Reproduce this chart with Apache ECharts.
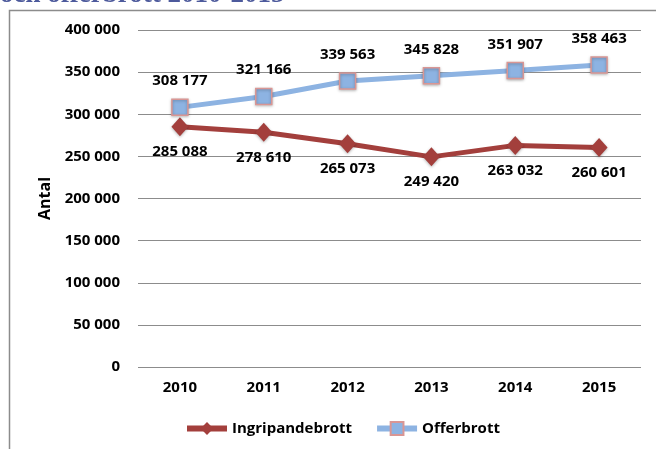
<!DOCTYPE html>
<html><head><meta charset="utf-8">
<script src="https://cdn.jsdelivr.net/npm/echarts@6/dist/echarts.min.js"></script>
<style>html,body{margin:0;padding:0;background:#fff}#c{width:656px;height:449px}</style>
</head><body><div id="c"></div>
<script>
const categories = ['2010','2011','2012','2013','2014','2015'];
const ingripandebrott = [285088, 278610, 265073, 249420, 263032, 260601];
const offerbrott = [308177, 321166, 339563, 345828, 351907, 358463];
const yTicks = [0, 50000, 100000, 150000, 200000, 250000, 300000, 350000, 400000];

const fmt = v => String(v).replace(/\B(?=(\d{3})+(?!\d))/g, ' ');
const FONT = '"Open Sans", "Liberation Sans", sans-serif';
const FS = 15;
const chart = echarts.init(document.getElementById('c'));
chart.setOption({
  animation: false,
  graphic: [
    {type:'rect', shape:{x:9.5, y:10.5, width:700, height:500}, style:{fill:'none', stroke:'#8c8c8c', lineWidth:1.5}, silent:true},
    {type:'text', x:0, y:-4.5, style:{text:'och offerbrott 2010-2015', font:'bold 27px "Liberation Serif", "DejaVu Serif", serif', fill:'#4d5a9c', verticalAlign:'middle', align:'left'}}
  ],
  grid: {left:138, right:15, top:30, bottom:82},
  legend: {
    bottom: 8, left: 179, itemGap: 22, itemWidth: 40, itemHeight: 16,
    textStyle: {fontFamily: FONT, fontWeight:'bold', fontSize:FS, color:'#000'},
    data: [
      {name:'Ingripandebrott', lineStyle:{width:6}},
      {name:'Offerbrott', lineStyle:{width:6}}
    ]
  },
  xAxis: {
    type:'category', data: categories, boundaryGap:true,
    axisLine:{show:false}, axisTick:{show:false},
    axisLabel:{fontFamily:FONT, fontWeight:'bold', fontSize:FS, color:'#000', margin:13}
  },
  yAxis: {
    type:'value', min:yTicks[0], max:yTicks[yTicks.length-1], interval:yTicks[1]-yTicks[0],
    name:'Antal', nameLocation:'middle', nameGap:84, nameRotate:90,
    nameTextStyle:{fontFamily:FONT, fontWeight:'bold', fontSize:16, color:'#000'},
    axisLine:{show:false}, axisTick:{show:false},
    splitLine:{lineStyle:{color:'#8c8c8c', width:1}},
    axisLabel:{fontFamily:FONT, fontWeight:'bold', fontSize:FS, color:'#000', margin:18, formatter: v => fmt(v)}
  },
  series: [
    {
      name:'Ingripandebrott', type:'line', data: ingripandebrott,
      symbol:'diamond', symbolSize:[17,19],
      lineStyle:{color:'#a33f3c', width:5},
      itemStyle:{color:'#a33f3c', borderColor:'#a33f3c', borderWidth:0, shadowColor:'rgba(0,0,0,0.3)', shadowBlur:3, shadowOffsetY:1},
      label:{show:true, position:'bottom', distance:8, fontFamily:FONT, fontWeight:'bold', fontSize:FS, color:'#000', formatter: p => fmt(p.value)},
      z: 2
    },
    {
      name:'Offerbrott', type:'line', data: offerbrott,
      symbol:'rect', symbolSize:16,
      lineStyle:{color:'#8db3e2', width:5},
      itemStyle:{color:'#8db3e2', borderColor:'#d99694', borderWidth:1.5, shadowColor:'rgba(0,0,0,0.3)', shadowBlur:3, shadowOffsetY:1},
      label:{show:true, position:'top', distance:10, fontFamily:FONT, fontWeight:'bold', fontSize:FS, color:'#000', formatter: p => fmt(p.value)},
      z: 3
    }
  ]
});
</script></body></html>
